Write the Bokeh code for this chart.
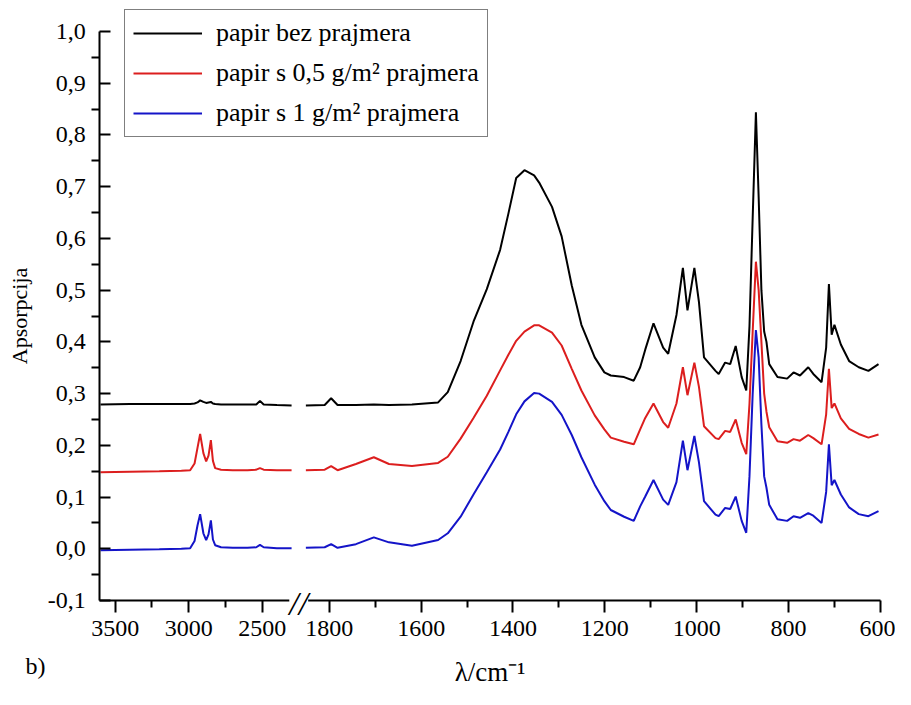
from bokeh.plotting import figure
from bokeh.models import (Range1d, LinearAxis, FixedTicker, CustomJSTickFormatter, Label)
from bokeh.embed import file_html
from bokeh.resources import INLINE

# ---------------- data ----------------
# high-wavenumber segment (left of the axis break), cm-1
HIGH_WN = [3600, 3400, 3200, 3050, 2990, 2960, 2940, 2922, 2900, 2881, 2865, 2849,
           2835, 2820, 2780, 2700, 2600, 2540, 2515, 2490, 2400, 2300]
HIGH_BLACK = [0.279, 0.280, 0.280, 0.280, 0.280, 0.281, 0.283, 0.287, 0.284, 0.282, 0.283, 0.284,
              0.281, 0.280, 0.279, 0.279, 0.279, 0.279, 0.286, 0.279, 0.278, 0.277]
HIGH_RED = [0.148, 0.149, 0.150, 0.151, 0.152, 0.165, 0.195, 0.222, 0.185, 0.169, 0.180, 0.210,
            0.170, 0.156, 0.153, 0.152, 0.152, 0.153, 0.156, 0.153, 0.152, 0.152]
HIGH_BLUE = [-0.003, -0.002, -0.001, 0.000, 0.001, 0.015, 0.045, 0.067, 0.030, 0.017, 0.028, 0.055,
             0.018, 0.007, 0.003, 0.002, 0.002, 0.003, 0.0075, 0.003, 0.001, 0.001]

# low-wavenumber segment (right of the axis break), cm-1
LOW_WN = [1851, 1810, 1796, 1782, 1742, 1703, 1670, 1620, 1563, 1542, 1514, 1486, 1457, 1428,
          1410, 1393, 1375, 1354, 1343, 1315, 1294, 1272, 1251, 1222, 1201, 1187, 1158, 1137,
          1123, 1112, 1094, 1073, 1062, 1044, 1030, 1020, 1005, 995, 984, 959, 952, 938, 927,
          915, 902, 892, 885, 878, 871, 865, 859, 853, 848, 842, 824, 803, 789, 775, 757, 746,
          728, 718, 712, 706, 700, 686, 668, 647, 626, 604]
LOW_BLACK = [0.277, 0.278, 0.291, 0.278, 0.278, 0.279, 0.278, 0.279, 0.283, 0.303, 0.363, 0.439,
             0.502, 0.578, 0.648, 0.717, 0.732, 0.722, 0.708, 0.661, 0.604, 0.509, 0.433, 0.370,
             0.341, 0.335, 0.332, 0.325, 0.351, 0.385, 0.436, 0.389, 0.377, 0.452, 0.543, 0.461,
             0.543, 0.477, 0.370, 0.344, 0.338, 0.360, 0.357, 0.392, 0.332, 0.306, 0.430, 0.640,
             0.844, 0.680, 0.500, 0.420, 0.400, 0.357, 0.332, 0.329, 0.341, 0.335, 0.351, 0.338,
             0.322, 0.389, 0.512, 0.414, 0.433, 0.395, 0.363, 0.351, 0.344, 0.357]
LOW_RED = [0.152, 0.153, 0.160, 0.152, 0.164, 0.177, 0.164, 0.160, 0.166, 0.178, 0.213, 0.253,
           0.296, 0.345, 0.375, 0.402, 0.420, 0.432, 0.432, 0.418, 0.393, 0.348, 0.306, 0.258,
           0.231, 0.215, 0.207, 0.202, 0.231, 0.253, 0.281, 0.245, 0.234, 0.281, 0.351, 0.297,
           0.360, 0.313, 0.237, 0.214, 0.212, 0.228, 0.226, 0.250, 0.205, 0.183, 0.280, 0.420,
           0.555, 0.500, 0.400, 0.300, 0.265, 0.235, 0.208, 0.205, 0.212, 0.209, 0.220, 0.214,
           0.202, 0.260, 0.348, 0.272, 0.281, 0.252, 0.232, 0.222, 0.215, 0.221]
LOW_BLUE = [0.002, 0.003, 0.009, 0.002, 0.009, 0.022, 0.0125, 0.006, 0.017, 0.030, 0.062, 0.105,
            0.148, 0.192, 0.226, 0.260, 0.285, 0.301, 0.300, 0.284, 0.259, 0.220, 0.177, 0.124,
            0.092, 0.075, 0.062, 0.054, 0.082, 0.101, 0.133, 0.095, 0.085, 0.129, 0.209, 0.152,
            0.218, 0.167, 0.092, 0.066, 0.063, 0.079, 0.077, 0.101, 0.054, 0.031, 0.140, 0.300,
            0.423, 0.370, 0.240, 0.140, 0.118, 0.085, 0.057, 0.054, 0.063, 0.060, 0.069, 0.064,
            0.050, 0.110, 0.202, 0.123, 0.133, 0.105, 0.080, 0.067, 0.063, 0.073]

SERIES_LABELS = ["papir bez prajmera", "papir s 0,5 g/m\u00b2 prajmera", "papir s 1 g/m\u00b2 prajmera"]
SERIES_COLORS = ["#000000", "#dc1e1e", "#1414c8"]

X_TICKS_HIGH = [3500, 3000, 2500]
X_MINOR_HIGH = [3250, 2750]
X_TICKS_LOW = [1800, 1600, 1400, 1200, 1000, 800, 600]
X_MINOR_LOW = [1700, 1500, 1300, 1100, 900, 700]
Y_TICKS = [-0.1, 0.0, 0.1, 0.2, 0.3, 0.4, 0.5, 0.6, 0.7, 0.8, 0.9, 1.0]
Y_MINOR = [-0.05, 0.05, 0.15, 0.25, 0.35, 0.45, 0.55, 0.65, 0.75, 0.85, 0.95]
Y_BOUNDS = (-0.1, 1.0)

FONT = "Liberation Serif"

# ---------------- view ranges (frame spans the whole canvas; axes are pinned) ----------------
low_range = Range1d(2516, 567)       # main x range (right segment of the broken axis)
high_range = Range1d(4280, -1808)    # extra x range (left segment of the broken axis)
y_range = Range1d(-0.272, 1.06)
AXIS_X_AT = 2300                     # main-range position of the vertical axis


def to_low(v):
    """position of a left-segment wavenumber on the main range"""
    return low_range.start - (high_range.start - v) * (low_range.start - low_range.end) / (
        high_range.start - high_range.end)


p = figure(width=895, height=689, x_range=low_range, y_range=y_range,
           output_backend="svg", toolbar_location=None,
           x_axis_type=None, y_axis_type=None, min_border=0)
p.extra_x_ranges = {"high": high_range}
p.outline_line_color = None
p.background_fill_color = "white"
p.border_fill_color = "white"

highs = [HIGH_BLACK, HIGH_RED, HIGH_BLUE]
lows = [LOW_BLACK, LOW_RED, LOW_BLUE]
for hv, lv, lab, col in zip(highs, lows, SERIES_LABELS, SERIES_COLORS):
    p.line(HIGH_WN, hv, x_range_name="high", line_color=col, line_width=2)
    p.line(LOW_WN, lv, line_color=col, line_width=2, legend_label=lab)

# x axis with break
tick_pos = [to_low(v) for v in X_TICKS_HIGH] + X_TICKS_LOW
tick_lab = [str(v) for v in X_TICKS_HIGH + X_TICKS_LOW]
minor_pos = [to_low(v) for v in X_MINOR_HIGH] + X_MINOR_LOW
xfmt = CustomJSTickFormatter(args=dict(pos=tick_pos, lab=tick_lab), code="""
let best = 0, bd = Infinity;
for (let i = 0; i < pos.length; i++) {
  const d = Math.abs(pos[i] - tick);
  if (d < bd) { bd = d; best = i; }
}
return lab[best];
""")
xaxis = LinearAxis(ticker=FixedTicker(ticks=tick_pos, minor_ticks=minor_pos), formatter=xfmt,
                   axis_label="\u03bb/cm\u207b\u00b9", fixed_location=Y_BOUNDS[0],
                   bounds=(min(X_TICKS_LOW), AXIS_X_AT))
xaxis.major_tick_in = 0
xaxis.major_tick_out = 12
xaxis.minor_tick_in = 0
xaxis.minor_tick_out = 7
xaxis.major_label_standoff = 8
xaxis.axis_label_standoff = 18
p.add_layout(xaxis, "below")

yfmt = CustomJSTickFormatter(code="return tick.toFixed(1).replace('.', ',');")
yaxis = LinearAxis(ticker=FixedTicker(ticks=Y_TICKS, minor_ticks=Y_MINOR), formatter=yfmt,
                   axis_label="Apsorpcija", fixed_location=AXIS_X_AT, bounds=Y_BOUNDS)
yaxis.major_tick_in = 11
yaxis.major_tick_out = 0
yaxis.minor_tick_in = 0
yaxis.minor_tick_out = 8
yaxis.major_label_standoff = 6
yaxis.axis_label_standoff = 13
p.add_layout(yaxis, "left")

for ax in (xaxis, yaxis):
    ax.axis_line_width = 2
    ax.major_tick_line_width = 2
    ax.minor_tick_line_width = 2
    ax.axis_line_color = "black"
    ax.major_tick_line_color = "black"
    ax.minor_tick_line_color = "black"
    ax.major_label_text_font = FONT
    ax.major_label_text_font_size = "24px"
    ax.major_label_text_color = "black"
    ax.axis_label_text_font = FONT
    ax.axis_label_text_font_style = "normal"
    ax.axis_label_text_color = "black"
xaxis.axis_label_text_font_size = "27px"
yaxis.axis_label_text_font_size = "22px"

# break marks on the x axis
break_x = (to_low(HIGH_WN[-1]) + LOW_WN[0]) / 2
p.add_layout(Label(x=break_x, y=Y_BOUNDS[0], text="//", text_align="center", text_baseline="middle",
                   text_font=FONT, text_font_style="italic", text_font_size="34px",
                   background_fill_color="white", text_color="black", y_offset=-3))

# panel letter
p.add_layout(Label(x=25, y=11, x_units="screen", y_units="screen", text="b)",
                   text_font=FONT, text_font_size="24px", text_color="black"))

# legend
lg = p.legend[0]
lg.location = (124, 552)
lg.label_text_font = FONT
lg.label_text_font_size = "26px"
lg.label_text_color = "black"
lg.glyph_width = 69
lg.label_standoff = 14
lg.padding = 8
lg.spacing = 10
lg.margin = 0
lg.border_line_color = "black"
lg.border_line_width = 1
lg.background_fill_alpha = 1.0

open("out.html", "w").write(file_html(p, INLINE))
